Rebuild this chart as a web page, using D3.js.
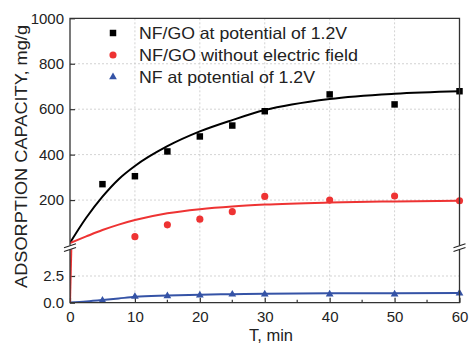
<!DOCTYPE html>
<html>
<head>
<meta charset="utf-8">
<script src="https://cdn.jsdelivr.net/npm/d3@7"></script>
<style>
  body { margin: 0; background: #fff; }
  text { font-family: "Liberation Sans", Arial, sans-serif; }
</style>
</head>
<body>
<script>
// chart size
var width = 470;
var height = 344;

// measured points
var tNFGOPot = [5, 10, 15, 20, 25, 30, 40, 50, 60];
var qNFGOPot = [270, 305, 414, 480, 528, 591, 665, 621, 679];
var tNFGONoField = [10, 15, 20, 25, 30, 40, 50, 60];
var qNFGONoField = [39, 91, 116, 149, 216, 200, 218, 197];
var tNFPot = [5, 10, 15, 20, 25, 30, 40, 50, 60];
var qNFPot = [0.2, 0.57, 0.63, 0.69, 0.78, 0.8, 0.8, 0.8, 0.88];

// fitted curves
var tFit = [0, 2.5, 5, 7.5, 10, 15, 20, 25, 30, 40, 50, 60];
var fitNFGOPot = [12, 122, 215, 292, 350, 437, 502, 552, 596, 645, 668, 679];
var fitNFGONoField = [11, 40, 68, 92, 112, 142, 160, 172, 180, 189, 194, 197];
var fitNFPot = [0.03, 0.12, 0.25, 0.4, 0.55, 0.67, 0.75, 0.8, 0.84, 0.88, 0.89, 0.9];
var tFitLow = [0, 0.25];
var fitNoFieldLow = [0, 6.25];

// ticks and labels
var xTicks = [0, 10, 20, 30, 40, 50, 60];
var xMinor = [5, 15, 25, 35, 45, 55];
var yTopTicks = [200, 400, 600, 800, 1000];
var yBotTicks = [0, 2.5];
var legendLabels = ["NF/GO at potential of 1.2V", "NF/GO without electric field", "NF at potential of 1.2V"];
var legendWidths = [208, 219, 176];
var xTitle = "T, min";
var yTitle = "ADSORPTION CAPACITY, mg/g";

var black = "#000";
var red = "#ee3333";
var blue = "#3553a6";

// scales: one x, two y segments (broken axis)
var x = d3.scaleLinear().domain([0, 60]).range([70, 459.5]);
var yTop = d3.scaleLinear().domain([0, 1000]).range([245.5, 18.3]);
var yBot = d3.scaleLinear().domain([0, 5]).range([302.7, 249.3]);

var svg = d3.select("body")
    .append("svg")
    .attr("width", width)
    .attr("height", height);

var plotLeft = x.range()[0], plotRight = x.range()[1];
var plotTop = yTop.range()[1], plotBottom = yBot.range()[0];

//clip paths for the two segments
var defs = svg.append("defs");
defs.append("clipPath").attr("id", "clipTop")
  .append("rect").attr("x", plotLeft).attr("y", plotTop)
  .attr("width", plotRight - plotLeft).attr("height", yTop(0) - plotTop);
defs.append("clipPath").attr("id", "clipBot")
  .append("rect").attr("x", plotLeft).attr("y", yBot(5))
  .attr("width", plotRight - plotLeft).attr("height", plotBottom - yBot(5));

//grid
var grid = svg.append("g")
    .attr("stroke", "#c8c8c8")
    .attr("stroke-width", 0.8)
    .attr("stroke-dasharray", "2,2");
grid.selectAll("line.v")
  .data(xTicks.slice(1, -1))
  .enter().append("line")
    .attr("x1", function(d) { return x(d); })
    .attr("x2", function(d) { return x(d); })
    .attr("y1", plotTop).attr("y2", plotBottom);
grid.selectAll("line.ht")
  .data(yTopTicks.slice(0, -1))
  .enter().append("line")
    .attr("x1", plotLeft).attr("x2", plotRight)
    .attr("y1", function(d) { return yTop(d); })
    .attr("y2", function(d) { return yTop(d); });
grid.append("line")
    .attr("x1", plotLeft).attr("x2", plotRight)
    .attr("y1", yBot(2.5)).attr("y2", yBot(2.5));

// axes
function styleAxis(g) {
    g.select(".domain").remove();
    g.selectAll("text").attr("font-size", "15px").attr("fill", "#222")
      .attr("font-family", "\"Liberation Sans\", Arial, sans-serif");
    g.selectAll("line").attr("stroke", "#333").attr("stroke-width", 1.2);
}

svg.append("g")
    .attr("transform", "translate(0," + plotBottom + ")")
    .call(d3.axisBottom(x).tickValues(xTicks).tickSizeInner(-5).tickSizeOuter(0).tickPadding(9))
    .call(styleAxis);

svg.append("g")
    .selectAll("line")
    .data(xMinor)
    .enter().append("line")
      .attr("x1", function(d) { return x(d); })
      .attr("x2", function(d) { return x(d); })
      .attr("y1", plotBottom).attr("y2", plotBottom - 3)
      .attr("stroke", "#333").attr("stroke-width", 1.2);

svg.append("g")
    .attr("transform", "translate(" + plotLeft + ",0)")
    .call(d3.axisLeft(yTop).tickValues(yTopTicks).tickSizeInner(-5).tickSizeOuter(0).tickPadding(6).tickFormat(d3.format("d")))
    .call(styleAxis);

svg.append("g")
    .attr("transform", "translate(" + plotLeft + ",0)")
    .call(d3.axisLeft(yBot).tickValues(yBotTicks).tickSizeInner(-5).tickSizeOuter(0).tickPadding(6).tickFormat(d3.format(".1f")))
    .call(styleAxis);

// curves
function fitLine(ys, y) {
    return d3.line()
        .x(function(d, i) { return x(tFit[i]); })
        .y(function(d) { return y(d); })
        .curve(d3.curveMonotoneX)(ys);
}

var gTop = svg.append("g").attr("clip-path", "url(#clipTop)");
var gBot = svg.append("g").attr("clip-path", "url(#clipBot)");

gTop.append("path").attr("d", fitLine(fitNFGOPot, yTop))
    .attr("fill", "none").attr("stroke", black).attr("stroke-width", 2);
gTop.append("path").attr("d", fitLine(fitNFGONoField, yTop))
    .attr("fill", "none").attr("stroke", red).attr("stroke-width", 2);
gBot.append("path").attr("d", fitLine(fitNFPot, yBot))
    .attr("fill", "none").attr("stroke", blue).attr("stroke-width", 2);
gBot.append("path")
    .attr("d", d3.line()
        .x(function(d, i) { return x(tFitLow[i]); })
        .y(function(d) { return yBot(d); })(fitNoFieldLow))
    .attr("fill", "none").attr("stroke", red).attr("stroke-width", 2);

// markers
var sq = d3.symbol().type(d3.symbolSquare).size(42);
var ci = d3.symbol().type(d3.symbolCircle).size(40);
var tri = d3.symbol().type(d3.symbolTriangle).size(26);

svg.append("g").selectAll("path")
    .data(qNFGOPot)
    .enter().append("path")
      .attr("d", sq)
      .attr("transform", function(d, i) { return "translate(" + x(tNFGOPot[i]) + "," + yTop(d) + ")"; })
      .attr("fill", black);

svg.append("g").selectAll("path")
    .data(qNFGONoField)
    .enter().append("path")
      .attr("d", ci)
      .attr("transform", function(d, i) { return "translate(" + x(tNFGONoField[i]) + "," + yTop(d) + ")"; })
      .attr("fill", red);

svg.append("g").selectAll("path")
    .data(qNFPot)
    .enter().append("path")
      .attr("d", tri)
      .attr("transform", function(d, i) { return "translate(" + x(tNFPot[i]) + "," + yBot(d) + ")"; })
      .attr("fill", blue);

// frame, with gaps at the axis break
var gapTop = 245.5, gapBot = 249.8;
var frame = svg.append("g").attr("stroke", "#333").attr("stroke-width", 1.3).attr("fill", "none");
frame.append("path")
    .attr("d", "M" + plotLeft + "," + gapTop + "V" + plotTop + "H" + plotRight + "V" + gapTop);
frame.append("path")
    .attr("d", "M" + plotLeft + "," + gapBot + "V" + plotBottom + "H" + plotRight + "V" + gapBot);

// break marks
[plotLeft, plotRight].forEach(function(cx) {
    var cy = (gapTop + gapBot) / 2;
    svg.append("path")
        .attr("d", "M" + (cx - 6) + "," + (cy + 3.8) + "L" + (cx + 6) + "," + (cy - 0.2) +
                   "L" + (cx + 6) + "," + (cy - 3.8) + "L" + (cx - 6) + "," + (cy + 0.2) + "Z")
        .attr("fill", "#fff");
    svg.append("line")
        .attr("x1", cx - 6).attr("y1", cy + 0.2).attr("x2", cx + 6).attr("y2", cy - 3.8)
        .attr("stroke", "#222").attr("stroke-width", 1.1);
    svg.append("line")
        .attr("x1", cx - 6).attr("y1", cy + 3.8).attr("x2", cx + 6).attr("y2", cy - 0.2)
        .attr("stroke", "#222").attr("stroke-width", 1.1);
});

// legend
var legend = svg.append("g").attr("class", "legend");
var legendSymbols = [sq, ci, tri];
var legendColors = [black, red, blue];
legend.selectAll("path")
    .data(legendLabels)
    .enter().append("path")
      .attr("d", function(d, i) { return legendSymbols[i](); })
      .attr("transform", function(d, i) { return "translate(113," + (33 + 22 * i) + ")"; })
      .attr("fill", function(d, i) { return legendColors[i]; });
legend.selectAll("text")
    .data(legendLabels)
    .enter().append("text")
      .attr("x", 139)
      .attr("y", function(d, i) { return 33 + 22 * i; })
      .attr("dy", "0.36em")
      .attr("font-size", "16.5px")
      .attr("textLength", function(d, i) { return legendWidths[i]; })
      .attr("lengthAdjust", "spacingAndGlyphs")
      .attr("fill", "#222")
      .text(function(d) { return d; });

// titles
svg.append("text")
    .attr("x", 271)
    .attr("y", 341)
    .attr("text-anchor", "middle")
    .attr("font-size", "16.5px")
    .attr("fill", "#222")
    .text(xTitle);

svg.append("text")
    .attr("transform", "translate(27," + 156.5 + ") rotate(-90)")
    .attr("text-anchor", "middle")
    .attr("font-size", "16.5px")
    .attr("textLength", 263)
    .attr("lengthAdjust", "spacingAndGlyphs")
    .attr("fill", "#222")
    .text(yTitle);
</script>
</body>
</html>
